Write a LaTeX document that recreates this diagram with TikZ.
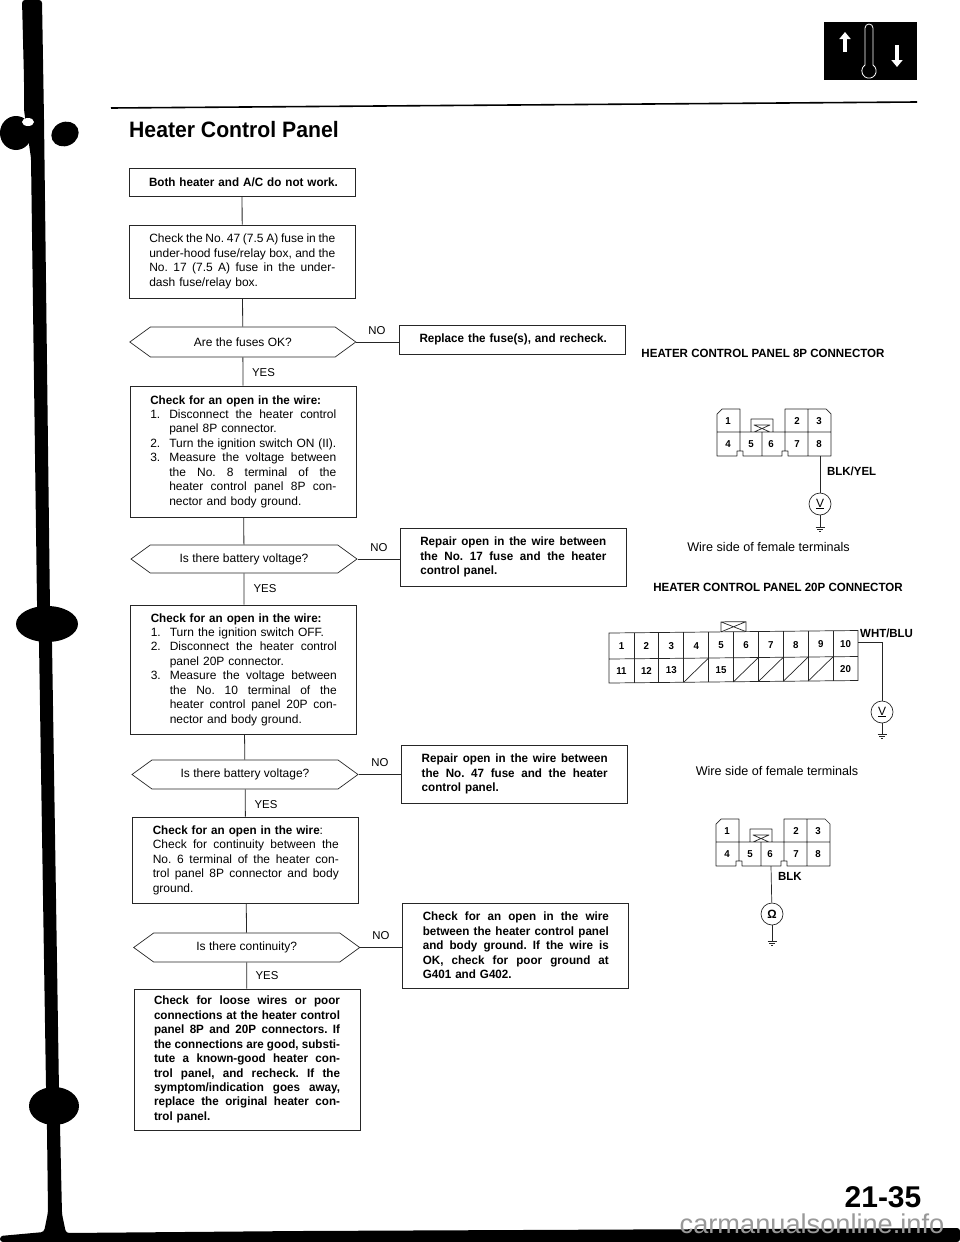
\documentclass[tikz,border=0pt]{standalone}
\usepackage{fontspec}
\setmainfont{Liberation Sans}[BoldFeatures={FakeStretch=.97}]
\newfontfamily\narrowbold{Liberation Sans}[FakeStretch=.95]
\newfontfamily\plainbold{Liberation Sans}
\usetikzlibrary{arrows.meta,shapes.symbols}
\hbadness=10000
\hfuzz=20pt
\colorlet{inkgray}{black!85}
% one printed line of a box: stretched to the measure, or left as it is
\newcommand{\fitspace}{\frenchspacing\spaceskip=.278em plus 1fil minus .1em\relax}
\newcommand{\jl}[1]{\leavevmode\hbox to 186pt{\fitspace #1}\par}
\newcommand{\rl}[1]{\leavevmode\hbox{\frenchspacing #1}\par}
\newcommand{\jn}[2]{\leavevmode\hbox to 186pt{\fitspace\hbox to 19pt{#1\hfil}#2}\par}
\newcommand{\rn}[2]{\leavevmode\hbox{\frenchspacing\hbox to 19pt{#1\hfil}#2}\par}
\tikzset{
  stepbox/.style={draw=inkgray, line width=.7pt, minimum width=226pt, text width=186pt,
    inner sep=0pt, font=\fontsize{12}{14.45}\selectfont},
  fixbox/.style={stepbox, font=\fontsize{12}{14.45}\selectfont\bfseries},
  askbox/.style={signal, signal to=east and west, signal pointer angle=72, draw=inkgray,
    line width=.7pt, minimum width=226pt, minimum height=29pt, inner sep=0pt,
    font=\fontsize{12}{14.3}\selectfont},
  answer/.style={font=\fontsize{11.4}{12}\selectfont, inner sep=0pt},
  flow/.style={draw=inkgray, line width=.8pt},
  wire/.style={draw=inkgray, line width=.7pt},
  pinlabel/.style={font=\fontsize{10}{11}\selectfont\bfseries, inner sep=0pt},
  heading/.style={font=\fontsize{11.9}{14}\selectfont\bfseries, inner sep=0pt},
  wirelabel/.style={anchor=west, font=\fontsize{11.8}{14}\selectfont\bfseries, inner sep=0pt},
  sidenote/.style={font=\fontsize{12.6}{14}\selectfont, inner sep=0pt},
  meter/.style={circle, draw=inkgray, line width=.7pt, minimum size=22pt, inner sep=0pt,
    font=\fontsize{12}{13}\selectfont},
  conn8/.pic={
    \draw[wire, line join=round]
      (0,5) -- (5,0) -- (23,0) -- (23,23) -- (68,23) -- (68,0) -- (109,0) -- (114,5)
      -- (114,47) -- (71,47) -- (71,42) -- (65,42) -- (65,47) -- (26,47) -- (26,42)
      -- (20,42) -- (20,47) -- (0,47) -- cycle
      (0,23) -- (114,23) (23,23) -- (23,42) (45,23) -- (45,47) (68,23) -- (68,42)
      (91,0) -- (91,47)
      (34,23) -- (34,10) -- (56,10) -- (56,23)
      (37,23) -- (53,16) -- (37,16) -- (53,23);
    \foreach \n/\x/\y in {1/11/12,2/80/12,3/102/12,4/11/35,5/34/35,6/54/35,7/80/35,8/102/35}
      \node[pinlabel] (-p\n) at (\x,\y) {\n};
    \coordinate (-b6) at (55,47);
    \coordinate (-b8) at (103,47);
  },
  gndmark/.pic={
    \draw[wire] (-4.5,0) -- (4.5,0) (-3,2) -- (3,2) (-1,4) -- (1,4);
  },
}
\begin{document}
\begin{tikzpicture}[x=1pt, y=-1pt]
  \useasboundingbox (0,0) rectangle (960,1242);

  % binding edge and bottom bar
  \fill[rounded corners=3pt]
    (22,0) -- (24,79) -- (24,110) -- (31,158) -- (37,602) -- (39,642) -- (46,1086) -- (47,1129)
    -- (48,1212) -- (44,1232) -- (0,1236) -- (0,1242) -- (960,1242) -- (960,1228) -- (300,1231)
    -- (66,1233) -- (62,1214) -- (60,1125) -- (59,1091) -- (52,642) -- (50,610) -- (44,119) -- (42,0) -- cycle;
  \fill (16,133) ellipse[x radius=16, y radius=17];
  \fill[rotate around={25:(65,134)}] (65,134) ellipse[x radius=14, y radius=12];
  \fill (47,624) ellipse[x radius=31, y radius=18];
  \fill (54,1106) ellipse[x radius=25, y radius=19];
  \fill[white] (28,122) ellipse[x radius=6, y radius=4];

  % heading of the page
  \fill (824,22) rectangle (917,80);
  \draw[white, line width=.8pt] (865,65) -- (865,28) arc[start angle=180, end angle=360, radius=4] -- (873,65)
    arc[start angle=-56, end angle=236, radius=7.2];
  \draw[white, line width=4.5pt, -{Triangle[width=11pt,length=7pt]}] (845,52) -- (845,32);
  \draw[white, line width=4.5pt, -{Triangle[width=11pt,length=7pt]}] (897,45) -- (897,67);
  \draw[line width=1.6pt] (111,108) -- (917,102);
  \node[anchor=west, inner sep=0pt, font=\fontsize{22.3}{24}\selectfont\narrowbold\bfseries]
    (title) at (129,130) {Heater Control Panel};

  % flowchart
  \node[fixbox, minimum height=28pt] (noheat) at (242,182)
    {\rl{Both heater and A/C do not work.}};
  \node[stepbox, minimum height=73pt] (fuses) at (242.3,261.5)
    {\jl{Check the No. 47 (7.5 A) fuse in the}\jl{under-hood fuse/relay box, and the}%
     \jl{No. 17 (7.5 A) fuse in the under-}\rl{dash fuse/relay box.}};
  \node[askbox, minimum height=30pt] (fusesok) at (242.8,342) {Are the fuses OK?};
  \node[fixbox, minimum height=29pt] (replace) at (512.5,339.5)
    {\rl{Replace the fuse(s), and recheck.}};
  \node[stepbox, minimum height=131pt] (open8p) at (243.3,451.5)
    {\rl{\bfseries Check for an open in the wire:}\jn{1.}{Disconnect the heater control}%
     \rn{}{panel 8P connector.}\jn{2.}{Turn the ignition switch ON (II).}%
     \jn{3.}{Measure the voltage between}\jn{}{the No. 8 terminal of the}%
     \jn{}{heater control panel 8P con-}\rn{}{nector and body ground.}};
  \node[askbox, minimum height=28pt] (volt8p) at (244,559) {Is there battery voltage?};
  \node[fixbox, minimum height=58pt] (repair17) at (513.3,557)
    {\jl{Repair open in the wire between}\jl{the No. 17 fuse and the heater}\rl{control panel.}};
  \node[stepbox, minimum height=129pt] (open20p) at (243.8,669.5)
    {\rl{\bfseries Check for an open in the wire:}\rn{1.}{Turn the ignition switch OFF.}%
     \jn{2.}{Disconnect the heater control}\rn{}{panel 20P connector.}%
     \jn{3.}{Measure the voltage between}\jn{}{the No. 10 terminal of the}%
     \jn{}{heater control panel 20P con-}\rn{}{nector and body ground.}};
  \node[askbox, minimum height=29pt] (volt20p) at (245,774.5) {Is there battery voltage?};
  \node[fixbox, minimum height=58pt] (repair47) at (514.7,774)
    {\jl{Repair open in the wire between}\jl{the No. 47 fuse and the heater}\rl{control panel.}};
  \node[stepbox, minimum height=86pt] (opengnd) at (245.8,860)
    {\rl{{\bfseries Check for an open in the wire}:}\jl{Check for continuity between the}%
     \jl{No. 6 terminal of the heater con-}\jl{trol panel 8P connector and body}\rl{ground.}};
  \node[askbox, minimum height=29pt] (contin) at (246.7,947.5) {Is there continuity?};
  \node[fixbox, minimum height=85pt] (poorgnd) at (515.8,945.5)
    {\jl{Check for an open in the wire}\jl{between the heater control panel}%
     \jl{and body ground. If the wire is}\jl{OK, check for poor ground at}\rl{G401 and G402.}};
  \node[fixbox, minimum height=141pt] (loose) at (247,1059.5)
    {\jl{Check for loose wires or poor}\jl{connections at the heater control}%
     \jl{panel 8P and 20P connectors. If}\jl{the connections are good, substi-}%
     \jl{tute a known-good heater con-}\jl{trol panel, and recheck. If the}%
     \jl{symptom/indication goes away,}\jl{replace the original heater con-}\rl{trol panel.}};

  \draw[flow] (noheat) -- (fuses);
  \draw[flow] (fuses) -- (fusesok);
  \draw[flow] (fusesok) -- (open8p);
  \draw[flow] (open8p) -- (volt8p);
  \draw[flow] (volt8p) -- (open20p);
  \draw[flow] (open20p) -- (volt20p);
  \draw[flow] (volt20p) -- (opengnd);
  \draw[flow] (opengnd) -- (contin);
  \draw[flow] (contin) -- (loose);
  \draw[flow] (fusesok.east) -- (fusesok.east -| replace.west);
  \draw[flow] (volt8p.east) -- (volt8p.east -| repair17.west);
  \draw[flow] (volt20p.east) -- (volt20p.east -| repair47.west);
  \draw[flow] (contin.east) -- (contin.east -| poorgnd.west);

  \node[answer] (no1) at (377,331) {NO};
  \node[answer] (yes1) at (263.5,373) {YES};
  \node[answer] (no2) at (379,548) {NO};
  \node[answer] (yes2) at (265,589) {YES};
  \node[answer] (no3) at (380,763) {NO};
  \node[answer] (yes3) at (266,805) {YES};
  \node[answer] (no4) at (381,936) {NO};
  \node[answer] (yes4) at (267,976) {YES};

  % 8P connector, voltage
  \node[heading] (head8p) at (763,353) {HEATER CONTROL PANEL 8P CONNECTOR};
  \pic (top8) at (717,409) {conn8};
  \node[meter] (meter1) at (820,504) {\underline{V}};
  \coordinate (gnd1) at (820,527);
  \draw[wire] (top8-b8) -- (meter1);
  \draw[wire] (meter1) -- (gnd1);
  \pic at (gnd1) {gndmark};
  \node[wirelabel] (wire8) at (827,471) {BLK/YEL};
  \node[sidenote] (side8) at (768.5,547) {Wire side of female terminals};

  % 20P connector
  \node[heading] (head20p) at (778,587) {HEATER CONTROL PANEL 20P CONNECTOR};
  \begin{scope}[shift={(609,633)}, yslant=.01]
    \draw[wire] (0,0) rectangle (249,50) (0,26) -- (249,26);
    \foreach \c in {1,...,9}
      \draw[wire] (24.9*\c,0) -- (24.9*\c,50);
    \draw[wire] (112,0) -- (112,-10) -- (137,-10) -- (137,0) (112,-10) -- (137,0) (112,0) -- (137,-10);
    \foreach \c in {4,6,7,8,9}
      \draw[wire] (24.9*\c-24.9,50) -- (24.9*\c,26);
    \foreach \n in {1,...,10}
      \node[pinlabel] (up\n) at (24.9*\n-12.4,13.5) {\n};
    \foreach \n/\c in {11/1,12/2,13/3,15/5,20/10}
      \node[pinlabel] (lo\n) at (24.9*\c-12.4,38) {\n};
    \coordinate (tail10) at (249,12);
  \end{scope}
  \node[wirelabel] (wire20) at (860,633) {WHT/BLU};
  \node[meter] (meter2) at (882,712) {\underline{V}};
  \coordinate (gnd2) at (882,734);
  \draw[wire] (tail10) -| (meter2);
  \draw[wire] (meter2) -- (gnd2);
  \pic at (gnd2) {gndmark};
  \node[sidenote] (side20) at (777,771) {Wire side of female terminals};

  % 8P connector, continuity
  \pic (low8) at (716,819) {conn8};
  \node[meter] (meter3) at (772,914) {\bfseries Ω};
  \coordinate (gnd3) at (772,941);
  \draw[wire] (low8-b6) -- (meter3);
  \draw[wire] (meter3) -- (gnd3);
  \pic at (gnd3) {gndmark};
  \node[wirelabel] (wire6) at (778,876) {BLK};

  % page number
  \node[inner sep=0pt, font=\fontsize{30}{32}\selectfont\plainbold\bfseries] (pageno) at (883,1197) {21-35};
  \node[inner sep=0pt, text=black!40, font=\fontsize{27.2}{30}\selectfont] (mark) at (812,1224) {carmanualsonline.info};
\end{tikzpicture}
\end{document}
